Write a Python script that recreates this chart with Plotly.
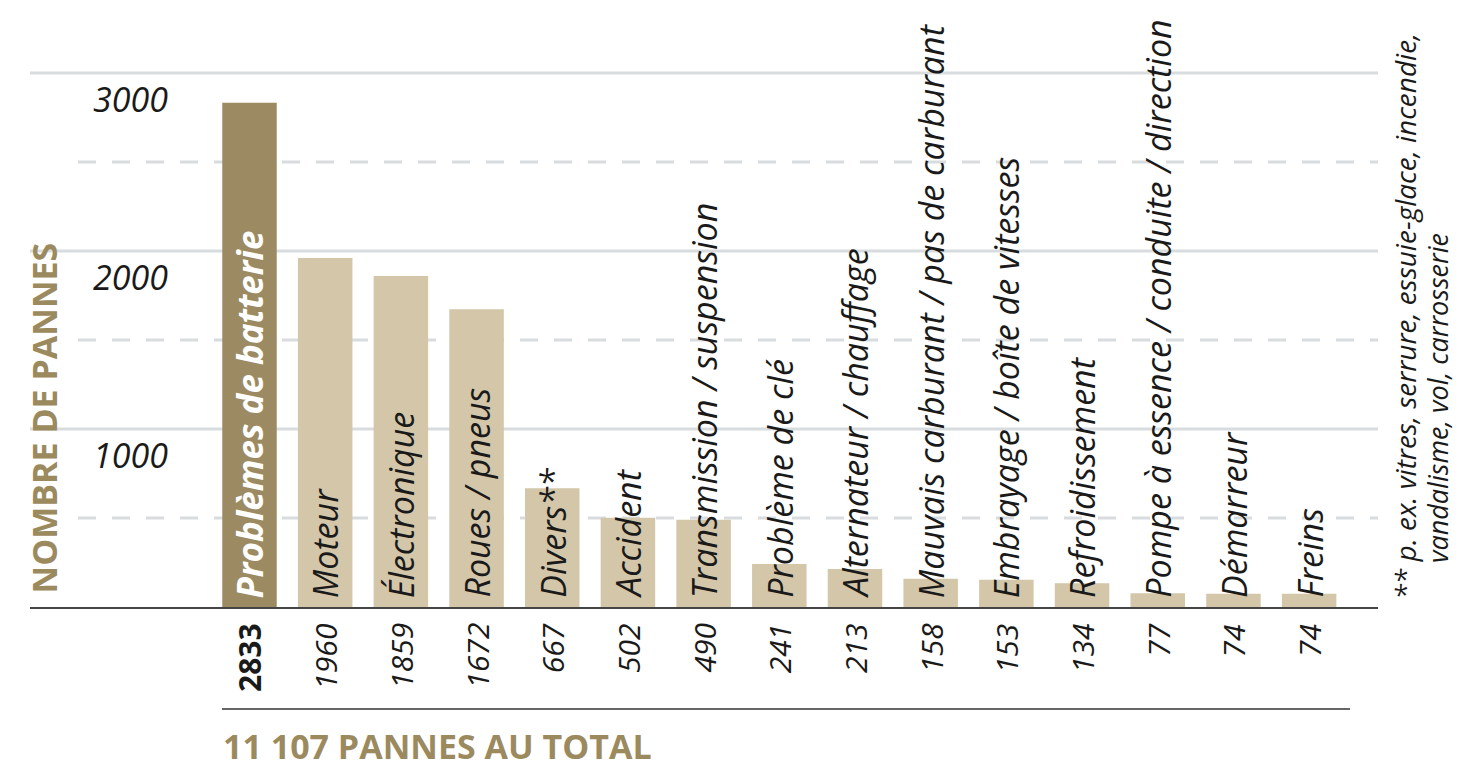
import plotly.graph_objects as go

categories = ["Problèmes de batterie", "Moteur", "Électronique", "Roues / pneus",
              "Divers**", "Accident", "Transmission / suspension", "Problème de clé",
              "Alternateur / chauffage", "Mauvais carburant / pas de carburant",
              "Embrayage / boîte de vitesses", "Refroidissement",
              "Pompe à essence / conduite / direction", "Démarreur", "Freins"]
values = [2833, 1960, 1859, 1672, 667, 502, 490, 241, 213, 158, 153, 134, 77, 74, 74]
major_ticks = [1000, 2000, 3000]
minor_ticks = [500, 1500, 2500]
total_label = "11 107 PANNES AU TOTAL"
y_title = "NOMBRE DE PANNES"
footnote_1 = "** p. ex. vitres, serrure, essuie-glace, incendie,"
footnote_2 = "vandalisme, vol, carrosserie"

DARK = "#9C8B62"
LIGHT = "#D3C6A9"
GOLD = "#9C8A5F"
GRID = "#D9DCDF"
INK = "#1a1a1a"
FONT = "Open Sans"

W, H = 1461, 773
ML, MR, MT, MB = 30, 83, 55, 166
PW, PH = W - ML - MR, H - MT - MB


def px_x(p):
    return (p - ML) / PW


def px_y(p):
    return (H - MB - p) / PH


xs = list(range(len(categories)))
colors = [DARK] + [LIGHT] * (len(categories) - 1)

fig = go.Figure()
fig.add_trace(go.Bar(x=xs, y=values, marker=dict(color=colors, line=dict(width=0)),
                     width=0.72, hoverinfo="skip"))

shapes = []
for t in major_ticks:
    shapes.append(dict(type="line", xref="paper", yref="y", x0=0, x1=1, y0=t, y1=t,
                       line=dict(color=GRID, width=3), layer="below"))
for t in minor_ticks:
    shapes.append(dict(type="line", xref="paper", yref="y", x0=px_x(78), x1=1, y0=t, y1=t,
                       line=dict(color=GRID, width=3, dash="18px,16px"), layer="below"))
shapes.append(dict(type="line", xref="paper", yref="paper", x0=px_x(222), x1=px_x(1350),
                   y0=px_y(709), y1=px_y(709), line=dict(color="#333333", width=1.5)))

annotations = []
for i, (c, v) in enumerate(zip(categories, values)):
    first = i == 0
    annotations.append(dict(
        x=i, y=0, xref="x", yref="y", text=f"<b>{c}</b>" if first else c,
        textangle=-90, showarrow=False, xanchor="center", yanchor="bottom", yshift=7,
        font=dict(family=FONT, size=35 if first else 34, color="white" if first else INK,
                  style="italic")))
    annotations.append(dict(
        x=i, y=0, xref="x", yref="y", text=f"<b>{v}</b>" if first else str(v),
        textangle=-90, showarrow=False, xanchor="center", yanchor="top", yshift=-14,
        font=dict(family=FONT, size=30, color=INK, style="normal" if first else "italic")))

for t in major_ticks:
    annotations.append(dict(
        x=px_x(170), y=t, xref="paper", yref="y", text=str(t), showarrow=False,
        xanchor="right", yanchor="top", yshift=-1,
        font=dict(family=FONT, size=34, color=INK, style="italic")))

annotations.append(dict(
    x=px_x(43), y=px_y(596), xref="paper", yref="paper", text=f"<b>{y_title}</b>",
    textangle=-90, showarrow=False, xanchor="center", yanchor="bottom",
    font=dict(family=FONT, size=34, color=GOLD)))

annotations.append(dict(
    x=px_x(221), y=px_y(746), xref="paper", yref="paper", text=f"<b>{total_label}</b>",
    showarrow=False, xanchor="left", yanchor="middle",
    font=dict(family=FONT, size=34, color=GOLD)))

annotations.append(dict(
    x=px_x(1404), y=px_y(602), xref="paper", yref="paper", text=footnote_1, textangle=-90,
    showarrow=False, xanchor="center", yanchor="bottom",
    font=dict(family=FONT, size=28, color=INK, style="italic")))
annotations.append(dict(
    x=px_x(1437), y=px_y(565), xref="paper", yref="paper", text=footnote_2, textangle=-90,
    showarrow=False, xanchor="center", yanchor="bottom",
    font=dict(family=FONT, size=27, color=INK, style="italic")))

fig.update_layout(
    width=W, height=H,
    margin=dict(l=ML, r=MR, t=MT, b=MB),
    paper_bgcolor="white", plot_bgcolor="white",
    showlegend=False,
    shapes=shapes, annotations=annotations,
    xaxis=dict(range=[-2.9, 14.91], showgrid=False, zeroline=False, showticklabels=False,
               ticks="", showline=True, linecolor="#444444", linewidth=2, fixedrange=True),
    yaxis=dict(range=[0, 3101], showgrid=False, zeroline=False, showticklabels=False,
               ticks="", showline=False, fixedrange=True),
)

fig.write_html("out.html", config={"displayModeBar": False},
               post_script="document.body.style.margin='0';")
